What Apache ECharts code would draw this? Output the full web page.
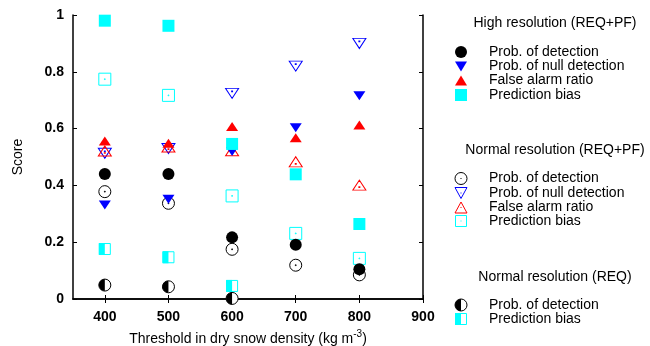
<!DOCTYPE html>
<html>
<head>
<meta charset="utf-8">
<script src="https://cdn.jsdelivr.net/npm/echarts@6/dist/echarts.min.js"></script>
<style>
  html, body { margin: 0; padding: 0; background: #fff; }
  #chart { width: 650px; height: 346px; }
</style>
</head>
<body>
<div id="chart"></div>
<script>
// thresholds (kg m-3)
const thresholds = [400, 500, 600, 700, 800]
const reqThresholds = [400, 500, 600]
const xTicks = [400, 500, 600, 700, 800, 900]
const yTicks = [0, 0.2, 0.4, 0.6, 0.8, 1]

// high resolution (REQ+PF)
const hiPod = [0.44, 0.44, 0.217, 0.191, 0.105]
const hiPnd = [0.331, 0.351, 0.519, 0.603, 0.716]
const hiFar = [0.556, 0.548, 0.607, 0.568, 0.613]
const hiBias = [0.98, 0.962, 0.546, 0.439, 0.264]
// normal resolution (REQ+PF)
const nrPod = [0.378, 0.337, 0.175, 0.119, 0.085]
const nrPnd = [0.513, 0.53, 0.724, 0.82, 0.9]
const nrFar = [0.521, 0.535, 0.522, 0.483, 0.401]
const nrBias = [0.774, 0.717, 0.363, 0.231, 0.143]
// normal resolution (REQ)
const reqPod = [0.049, 0.043, 0.002]
const reqBias = [0.176, 0.147, 0.046]

const groupTitles = ['High resolution (REQ+PF)', 'Normal resolution (REQ+PF)', 'Normal resolution (REQ)']
const itemNames = ['Prob. of detection', 'Prob. of null detection', 'False alarm ratio', 'Prediction bias']

const BLACK = '#000'
const BLUE = '#0000ff'
const RED = '#ff0000'
const CYAN = '#00ffff'
const FONT = 'Liberation Sans, Arial, sans-serif'

// open symbols with centre dot (gnuplot style)
const ringPath = 'path://M0,-6 A6,6 0 1,1 0,6 A6,6 0 1,1 0,-6 Z M-0.4,-0.4 L0.4,-0.4 L0.4,0.4 L-0.4,0.4 Z'
const downTriPath = 'path://M-6.5,-5 L6.5,-5 L0,5 Z M-0.4,-2.4 L0.4,-2.4 L0.4,-1.6 L-0.4,-1.6 Z'
const upTriPath = 'path://M-6.5,5 L6.5,5 L0,-5 Z M-0.4,2.4 L0.4,2.4 L0.4,1.6 L-0.4,1.6 Z'
const squarePath = 'path://M-6,-6 L6,-6 L6,6 L-6,6 Z M-0.4,-0.4 L0.4,-0.4 L0.4,0.4 L-0.4,0.4 Z'
const leftHalfCircle = 'path://M0,-6 A6,6 0 0,0 0,6 Z'
const leftHalfRect = 'path://M-6,-6 L0,-6 L0,6 L-6,6 Z'

function pts (xs, ys) {
  return xs.map((x, i) => [x, ys[i]])
}

function filled (name, xs, ys, symbol, size, color, rotate) {
  return {
    name: name,
    type: 'scatter',
    data: pts(xs, ys),
    symbol: symbol,
    symbolSize: size,
    symbolRotate: rotate || 0,
    itemStyle: { color: color, opacity: 1 },
    emphasis: { disabled: true }
  }
}

function open (name, xs, ys, symbol, size, color) {
  return {
    name: name,
    type: 'scatter',
    data: pts(xs, ys),
    symbol: symbol,
    symbolSize: size,
    itemStyle: { color: 'rgba(0,0,0,0)', borderColor: color, borderWidth: 1, opacity: 1 },
    emphasis: { disabled: true }
  }
}

const series = [
  open('nrPod', thresholds, nrPod, ringPath, [12, 12], BLACK),
  open('nrPnd', thresholds, nrPnd, downTriPath, [13, 10], BLUE),
  open('nrFar', thresholds, nrFar, upTriPath, [13, 10], RED),
  open('nrBias', thresholds, nrBias, squarePath, [12, 12], CYAN),
  filled('hiPod', thresholds, hiPod, 'circle', 12, BLACK),
  filled('hiPnd', thresholds, hiPnd, 'triangle', [12, 9], BLUE, 180),
  filled('hiFar', thresholds, hiFar, 'triangle', [12, 9], RED),
  filled('hiBias', thresholds, hiBias, 'rect', 12, CYAN),
  // half filled markers: outline + left half
  {
    name: 'reqPodRing',
    type: 'scatter',
    data: pts(reqThresholds, reqPod),
    symbol: 'circle',
    symbolSize: 12,
    itemStyle: { color: '#fff', borderColor: BLACK, borderWidth: 1, opacity: 1 },
    emphasis: { disabled: true }
  },
  {
    name: 'reqPod',
    type: 'scatter',
    data: pts(reqThresholds, reqPod),
    symbol: leftHalfCircle,
    symbolSize: [6, 12],
    symbolOffset: [-3, 0],
    itemStyle: { color: BLACK, opacity: 1 },
    emphasis: { disabled: true }
  },
  {
    name: 'reqBiasBox',
    type: 'scatter',
    data: pts(reqThresholds, reqBias),
    symbol: 'rect',
    symbolSize: 11,
    itemStyle: { color: '#fff', borderColor: CYAN, borderWidth: 1, opacity: 1 },
    emphasis: { disabled: true }
  },
  {
    name: 'reqBias',
    type: 'scatter',
    data: pts(reqThresholds, reqBias),
    symbol: leftHalfRect,
    symbolSize: [6, 12],
    symbolOffset: [-3, 0],
    itemStyle: { color: CYAN, opacity: 1 },
    emphasis: { disabled: true }
  }
]

// hand made legend (headings + icons)
const ix = 461
const tx = 489
const headX = 555
function icon (kind, color, y) {
  const r = 6
  switch (kind) {
    case 'circle': return { type: 'circle', shape: { cx: ix, cy: y, r: r }, style: { fill: color } }
    case 'ring': return { type: 'circle', shape: { cx: ix, cy: y, r: r }, style: { fill: 'none', stroke: color, lineWidth: 1 } }
    case 'down': return { type: 'polygon', shape: { points: [[ix - 6, y - 5], [ix + 6, y - 5], [ix, y + 5]] }, style: { fill: color } }
    case 'up': return { type: 'polygon', shape: { points: [[ix - 6, y + 5], [ix + 6, y + 5], [ix, y - 5]] }, style: { fill: color } }
    case 'downOpen': return { type: 'polygon', shape: { points: [[ix - 6, y - 5.5], [ix + 6, y - 5.5], [ix, y + 5.5]] }, style: { fill: 'none', stroke: color, lineWidth: 1 } }
    case 'upOpen': return { type: 'polygon', shape: { points: [[ix - 6, y + 5.5], [ix + 6, y + 5.5], [ix, y - 5.5]] }, style: { fill: 'none', stroke: color, lineWidth: 1 } }
    case 'rect': return { type: 'rect', shape: { x: ix - 6, y: y - 6, width: 12, height: 12 }, style: { fill: color } }
    case 'rectOpen': return { type: 'rect', shape: { x: ix - 5.5, y: y - 5.5, width: 11, height: 11 }, style: { fill: 'none', stroke: color, lineWidth: 1 } }
  }
}
function halfCircle (y) {
  return [
    { type: 'circle', shape: { cx: ix, cy: y, r: 6 }, style: { fill: '#fff', stroke: BLACK, lineWidth: 1 } },
    { type: 'sector', shape: { cx: ix, cy: y, r: 6, r0: 0, startAngle: Math.PI / 2, endAngle: Math.PI * 1.5 }, style: { fill: BLACK } }
  ]
}
function halfRect (y) {
  return [
    { type: 'rect', shape: { x: ix - 5.5, y: y - 5.5, width: 11, height: 11 }, style: { fill: '#fff', stroke: CYAN, lineWidth: 1 } },
    { type: 'rect', shape: { x: ix - 6, y: y - 6, width: 6, height: 12 }, style: { fill: CYAN } }
  ]
}
function label (text, x, y, align) {
  return {
    type: 'text',
    style: { text: text, x: x, y: y, font: '14px ' + FONT, fill: '#000', textAlign: align, align: align, textVerticalAlign: 'middle', verticalAlign: 'middle' }
  }
}

const graphics = []
graphics.push(label(groupTitles[0], headX, 23, 'center'))
const hiRows = [52, 66.5, 80.5, 95]
const hiIcons = [['circle', BLACK], ['down', BLUE], ['up', RED], ['rect', CYAN]]
hiRows.forEach((y, i) => {
  graphics.push(icon(hiIcons[i][0], hiIcons[i][1], y))
  graphics.push(label(itemNames[i], tx, y, 'left'))
})
graphics.push(label(groupTitles[1], headX, 150, 'center'))
const nrRows = [178.5, 193, 207.5, 221]
const nrIcons = [['ring', BLACK], ['downOpen', BLUE], ['upOpen', RED], ['rectOpen', CYAN]]
nrRows.forEach((y, i) => {
  graphics.push(icon(nrIcons[i][0], nrIcons[i][1], y))
  graphics.push({ type: 'rect', shape: { x: ix - 0.5, y: y - 0.5, width: 1, height: 1 }, style: { fill: nrIcons[i][1] } })
  graphics.push(label(itemNames[i], tx, y, 'left'))
})
graphics.push(label(groupTitles[2], headX, 277, 'center'))
halfCircle(305).forEach(g => graphics.push(g))
graphics.push(label(itemNames[0], tx, 305, 'left'))
halfRect(319).forEach(g => graphics.push(g))
graphics.push(label(itemNames[3], tx, 319, 'left'))

const axisLine = { show: true, lineStyle: { color: '#000', width: 1.5 } }

const chart = echarts.init(document.getElementById('chart'), null, { renderer: 'canvas' })
chart.setOption({
  animation: false,
  textStyle: { fontFamily: FONT },
  grid: { left: 73, right: 227, top: 15, bottom: 47, containLabel: false, outerBoundsMode: 'none' },
  xAxis: [
    {
      type: 'value',
      min: 350,
      max: 900,
      name: 'Threshold in dry snow density (kg m{sup|-3})',
      nameLocation: 'middle',
      nameGap: 30,
      nameTextStyle: {
        fontSize: 14,
        color: '#000',
        fontFamily: FONT,
        rich: { sup: { fontSize: 10, verticalAlign: 'top', padding: [0, 0, 10, 0], color: '#000', fontFamily: FONT } }
      },
      axisLine: axisLine,
      axisTick: { show: true, inside: true, length: 4, customValues: xTicks, lineStyle: { color: '#000', width: 1 } },
      axisLabel: { customValues: xTicks, margin: 11, fontSize: 14, fontWeight: 'bold', color: '#000', fontFamily: FONT },
      splitLine: { show: false }
    },
    {
      type: 'value',
      position: 'top',
      min: 350,
      max: 900,
      axisLine: axisLine,
      axisTick: { show: true, inside: true, length: 4, customValues: xTicks, lineStyle: { color: '#000', width: 1 } },
      axisLabel: { show: false },
      splitLine: { show: false }
    }
  ],
  yAxis: [
    {
      type: 'value',
      min: 0,
      max: 1,
      interval: 0.2,
      name: 'Score',
      nameLocation: 'middle',
      nameGap: 48,
      nameTextStyle: { fontSize: 14, color: '#000', fontFamily: FONT },
      axisLine: axisLine,
      axisTick: { show: true, inside: true, length: 4, lineStyle: { color: '#000', width: 1 } },
      axisLabel: { customValues: yTicks, margin: 9, fontSize: 14, fontWeight: 'bold', color: '#000', fontFamily: FONT },
      splitLine: { show: false }
    },
    {
      type: 'value',
      position: 'right',
      min: 0,
      max: 1,
      interval: 0.2,
      axisLine: axisLine,
      axisTick: { show: true, inside: true, length: 4, lineStyle: { color: '#000', width: 1 } },
      axisLabel: { show: false },
      splitLine: { show: false }
    }
  ],
  graphic: graphics,
  series: series
})
</script>
</body>
</html>
